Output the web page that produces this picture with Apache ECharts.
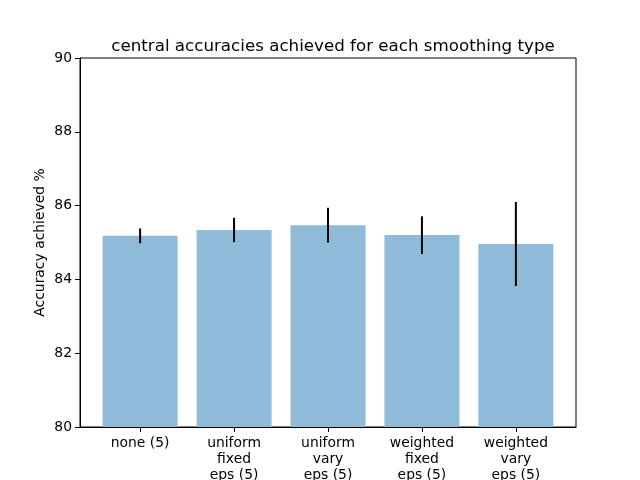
<!DOCTYPE html>
<html>
<head>
    <meta charset="utf-8" />
    <script src="https://cdn.jsdelivr.net/npm/echarts@6.0.0/dist/echarts.min.js"></script>
    <title>central accuracies</title>
    <style>
        html, body { margin: 0; padding: 0; background: #fff; }
        #main-chart { width: 640px; height: 480px; }
    </style>
</head>
<body>
    <div id="main-chart"></div>
    <script type="text/javascript">
        // categories and values
        var categories = ['none (5)', 'uniform\nfixed\neps (5)', 'uniform\nvary\neps (5)', 'weighted\nfixed\neps (5)', 'weighted\nvary\neps (5)'];
        var accuracy = [85.18, 85.34, 85.47, 85.20, 84.96];
        var errors = [0.20, 0.33, 0.47, 0.51, 1.14];
        var yTicks = [80, 82, 84, 86, 88, 90];

        var font = 'DejaVu Sans';
        var positions = categories.map((c, i) => i);
        var barData = accuracy.map((v, i) => [i, v]);
        var errData = accuracy.map((v, i) => [i, v, errors[i]]);

        var chart = echarts.init(document.getElementById('main-chart'));
        var option = {
            animation: false,
            title: {
                text: 'central accuracies achieved for each smoothing type',
                left: 328,
                textAlign: 'center',
                top: 33,
                textStyle: { fontFamily: font, fontSize: 16.7, fontWeight: 'normal', color: '#000' }
            },
            grid: {
                left: 80, right: 64, top: 58, bottom: 53,
                containLabel: false,
                outerBoundsMode: 'none',
                show: true, borderColor: '#000', borderWidth: 1, backgroundColor: 'transparent'
            },
            xAxis: {
                type: 'value',
                min: -0.64,
                max: 4.64,
                splitLine: { show: false },
                axisLine: { show: true, onZero: false, lineStyle: { color: '#000', width: 1 } },
                axisTick: { show: true, customValues: positions, length: 5, inside: false, lineStyle: { color: '#000' } },
                axisLabel: {
                    customValues: positions,
                    formatter: v => categories[Math.round(v)],
                    fontFamily: font, fontSize: 13.9, color: '#000', lineHeight: 16, margin: 8
                }
            },
            yAxis: {
                type: 'value',
                min: yTicks[0],
                max: yTicks[yTicks.length - 1],
                interval: 2,
                name: 'Accuracy achieved %',
                nameLocation: 'middle',
                nameGap: 33,
                nameMoveOverlap: false,
                nameTextStyle: { fontFamily: font, fontSize: 13.9, color: '#000' },
                splitLine: { show: false },
                axisLine: { show: true, onZero: false, lineStyle: { color: '#000', width: 1 } },
                axisTick: { show: true, length: 5, lineStyle: { color: '#000' } },
                axisLabel: { fontFamily: font, fontSize: 13.9, color: '#000', margin: 8 }
            },
            series: [
                {
                    type: 'bar',
                    data: barData,
                    barWidth: 75,
                    itemStyle: { color: '#8fbbd9' },
                    clip: true
                },
                {
                    type: 'custom',
                    data: errData,
                    z: 5,
                    renderItem: function (params, api) {
                        var x = api.value(0), y = api.value(1), e = api.value(2);
                        var lo = api.coord([x, y - e]);
                        var hi = api.coord([x, y + e]);
                        return {
                            type: 'line',
                            shape: { x1: lo[0], y1: lo[1], x2: hi[0], y2: hi[1] },
                            style: { stroke: '#000', lineWidth: 2 }
                        };
                    }
                }
            ]
        };
        chart.setOption(option);
    </script>
</body>
</html>
